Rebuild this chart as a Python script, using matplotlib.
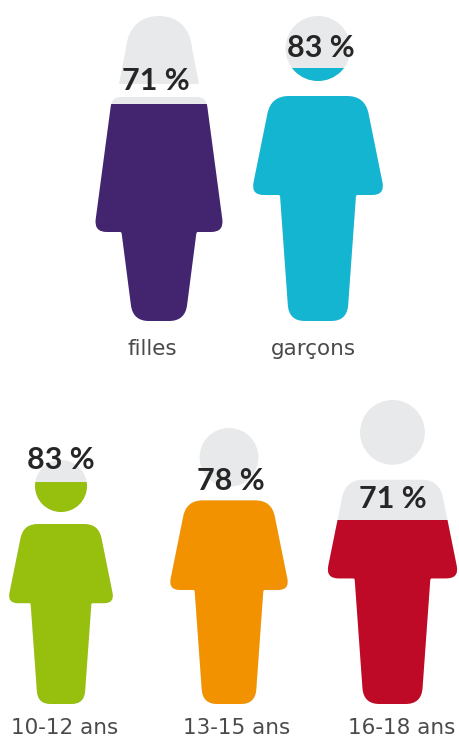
import math
import matplotlib
matplotlib.use("Agg")
import matplotlib.pyplot as plt
from matplotlib.path import Path
from matplotlib.patches import PathPatch, Rectangle, Circle

# ---------- data ----------
categories = ["filles", "garçons", "10-12 ans", "13-15 ans", "16-18 ans"]
percent_values = [71, 83, 83, 78, 71]
# height share of each silhouette that is coloured, as drawn in the picture
fill_levels = [0.71, 0.83, 0.91, 0.74, 0.605]

# ---------- styles and layout (pixels, y downwards) ----------
colors = ["#42246F", "#14B5D0", "#97BF0D", "#F39200", "#BE0A26"]
shapes = ["girl", "boy", "boy", "boy", "boy"]
centers = [159, 318, 61, 229, 392.5]
tops = [16, 16, 460, 428, 400]
bottoms = [321, 321, 704, 704, 704]
value_xy = [(156, 81), (321, 48), (61, 460), (231, 481), (393, 499)]
name_xy = [(152, 355), (313, 355), (65, 734), (237, 734), (402, 734)]
EMPTY = "#E8E9EB"
BASE_H = 305.0


def rounded(points):
    """Closed path from (x, y, radius) corners."""
    n = len(points)
    verts, codes = [], []
    for i, (x, y, r) in enumerate(points):
        px, py, _ = points[i - 1]
        nx, ny, _ = points[(i + 1) % n]
        d1 = math.hypot(px - x, py - y)
        d2 = math.hypot(nx - x, ny - y)
        a = (x + (px - x) * r / d1, y + (py - y) * r / d1)
        b = (x + (nx - x) * r / d2, y + (ny - y) * r / d2)
        verts.append(a)
        codes.append(Path.MOVETO if i == 0 else Path.LINETO)
        verts += [(x, y), b]
        codes += [Path.CURVE3, Path.CURVE3]
    verts.append(verts[0])
    codes.append(Path.CLOSEPOLY)
    return Path(verts, codes)


def mirrored(half):
    """half = [(hw, y, r)] from the top centre side going down one side."""
    right = [(hw, y, r) for hw, y, r in half]
    left = [(-hw, y, r) for hw, y, r in reversed(half)]
    return right + left


BOY_BODY = mirrored([(47, 80, 18), (67, 179, 13), (38, 179, 1.5), (29, 305, 16)])
GIRL_BODY = mirrored([(47, 81, 9), (65, 216, 13), (37.5, 216, 1.5), (26, 305, 16)])
DOME = Path(
    [(-40, 68), (-33, 32), (-31, 10), (-17, 0), (0, 0), (17, 0), (31, 10), (33, 32), (40, 68), (-40, 68)],
    [Path.MOVETO, Path.LINETO, Path.CURVE4, Path.CURVE4, Path.CURVE4, Path.CURVE4,
     Path.CURVE4, Path.CURVE4, Path.LINETO, Path.CLOSEPOLY],
)


def silhouette(ax, shape, cx, top, bottom, level, color):
    s = (bottom - top) / BASE_H
    place = lambda p: Path([(cx + x * s, top + y * s) for x, y in p.vertices], p.codes)
    body = place(rounded(BOY_BODY if shape == "boy" else GIRL_BODY))
    line = bottom - (bottom - top) * level
    for fc, clipped in ((EMPTY, False), (color, True)):
        head = (Circle((cx, top + 32.5 * s), 32.5 * s) if shape == "boy"
                else PathPatch(place(DOME)))
        for part in (PathPatch(body), head):
            part.set(facecolor=fc, edgecolor="none", zorder=3 if clipped else 2)
            ax.add_patch(part)
            if clipped:
                part.set_clip_path(Rectangle((cx - 120, line), 240, bottom - line + 2,
                                             transform=ax.transData))


fig = plt.figure(figsize=(4.59, 7.40), dpi=100, facecolor="white")
ax = fig.add_axes([0, 0, 1, 1])
ax.set_xlim(0, 459)
ax.set_ylim(740, 0)
ax.axis("off")

for i, cat in enumerate(categories):
    silhouette(ax, shapes[i], centers[i], tops[i], bottoms[i], fill_levels[i], colors[i])
    ax.text(*value_xy[i], f"{percent_values[i]} %", ha="center", va="center",
            fontsize=22, fontweight="bold", color="#262626", zorder=5, family="Lato")
    ax.text(*name_xy[i], cat, ha="center", va="baseline",
            fontsize=15.5, color="#4A4A4A", zorder=5, family="DejaVu Sans")

fig.savefig("out.png", dpi=100, facecolor="white")
